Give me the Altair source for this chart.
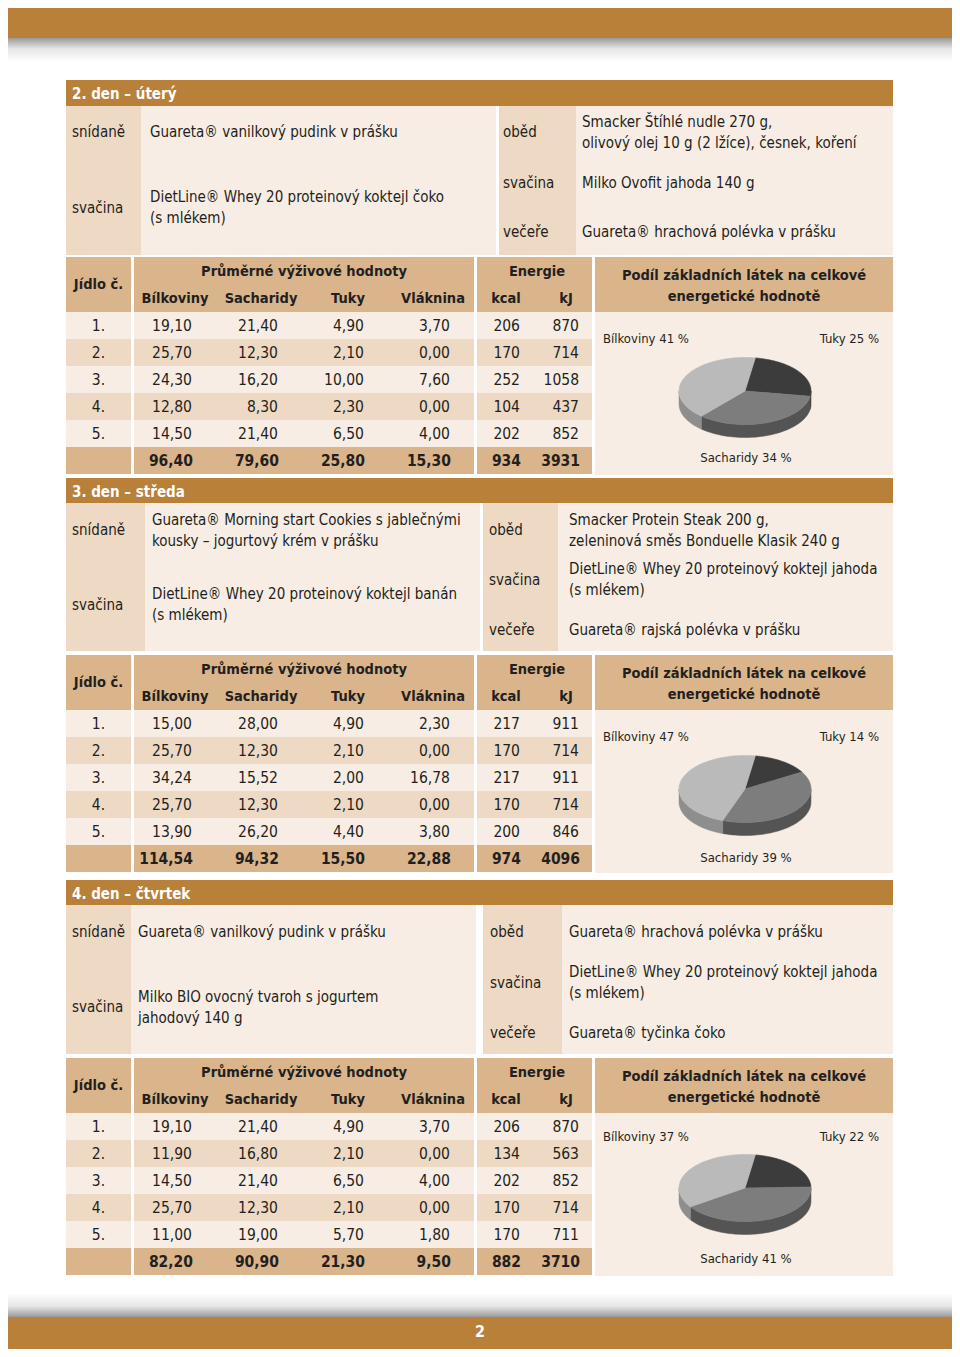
import altair as alt
import numpy as np
import pandas as pd

# ======================= DATA =======================
day_titles = ["2. den – úterý", "3. den – středa", "4. den – čtvrtek"]
left_meal_labels = ["snídaně", "svačina"]
right_meal_labels = ["oběd", "svačina", "večeře"]

day2_left = [["Guareta® vanilkový pudink v prášku"],
             ["DietLine® Whey 20 proteinový koktejl čoko", "(s mlékem)"]]
day2_right = [["Smacker Štíhlé nudle 270 g,", "olivový olej 10 g (2 lžíce), česnek, koření"],
              ["Milko Ovofit jahoda 140 g"],
              ["Guareta® hrachová polévka v prášku"]]
day3_left = [["Guareta® Morning start Cookies s jablečnými", "kousky – jogurtový krém v prášku"],
             ["DietLine® Whey 20 proteinový koktejl banán", "(s mlékem)"]]
day3_right = [["Smacker Protein Steak 200 g,", "zeleninová směs Bonduelle Klasik 240 g"],
              ["DietLine® Whey 20 proteinový koktejl jahoda", "(s mlékem)"],
              ["Guareta® rajská polévka v prášku"]]
day4_left = [["Guareta® vanilkový pudink v prášku"],
             ["Milko BIO ovocný tvaroh s jogurtem", "jahodový 140 g"]]
day4_right = [["Guareta® hrachová polévka v prášku"],
              ["DietLine® Whey 20 proteinový koktejl jahoda", "(s mlékem)"],
              ["Guareta® tyčinka čoko"]]
left_meals = [day2_left, day3_left, day4_left]
right_meals = [day2_right, day3_right, day4_right]

table_jidlo = "Jídlo č."
table_group_nutr = "Průměrné výživové hodnoty"
table_group_energy = "Energie"
nutr_cols = ["Bílkoviny", "Sacharidy", "Tuky", "Vláknina"]
energy_cols = ["kcal", "kJ"]
meal_numbers = ["1.", "2.", "3.", "4.", "5."]
pie_title = ["Podíl základních látek na celkové", "energetické hodnotě"]

bilkoviny = [[19.10, 25.70, 24.30, 12.80, 14.50],
             [15.00, 25.70, 34.24, 25.70, 13.90],
             [19.10, 11.90, 14.50, 25.70, 11.00]]
sacharidy = [[21.40, 12.30, 16.20, 8.30, 21.40],
             [28.00, 12.30, 15.52, 12.30, 26.20],
             [21.40, 16.80, 21.40, 12.30, 19.00]]
tuky = [[4.90, 2.10, 10.00, 2.30, 6.50],
        [4.90, 2.10, 2.00, 2.10, 4.40],
        [4.90, 2.10, 6.50, 2.10, 5.70]]
vlaknina = [[3.70, 0.00, 7.60, 0.00, 4.00],
            [2.30, 0.00, 16.78, 0.00, 3.80],
            [3.70, 0.00, 4.00, 0.00, 1.80]]
kcal = [[206, 170, 252, 104, 202],
        [217, 170, 217, 170, 200],
        [206, 134, 202, 170, 170]]
kj = [[870, 714, 1058, 437, 852],
      [911, 714, 911, 714, 846],
      [870, 563, 852, 714, 711]]
totals_bilkoviny = [96.40, 114.54, 82.20]
totals_sacharidy = [79.60, 94.32, 90.90]
totals_tuky = [25.80, 15.50, 21.30]
totals_vlaknina = [15.30, 22.88, 9.50]
totals_kcal = [934, 974, 882]
totals_kj = [3931, 4096, 3710]

pie_names = ["Bílkoviny", "Sacharidy", "Tuky"]
pie_bilkoviny = [41, 47, 37]
pie_sacharidy = [34, 39, 41]
pie_tuky = [25, 14, 22]
page_number = "2"

# ======================= LAYOUT / STYLE =======================
BROWN = "#b9803a"
TAN = "#dab58b"
MID = "#eed9c4"
LIGHT = "#f7ede4"
INK = "#231f20"
FONT = "DejaVu Sans Condensed, Liberation Sans Narrow, sans-serif"

days = [
    dict(hdr=(80, 106), meals=(106, 255), lab_l=141, cont_l=496, lab_r=(499, 576),
         tx_l=150, tx_r=582, lab_rx=503,
         llab_y=[132, 208], l_y=[[132], [197, 218]],
         rlab_y=[132, 183, 232], r_y=[[122, 143], [183], [232]],
         table=257, pie_cy=391, pie_lab=339, pie_bot=458),
    dict(hdr=(478, 503), meals=(503, 651), lab_l=145, cont_l=480, lab_r=(483, 558),
         tx_l=152, tx_r=569, lab_rx=489,
         llab_y=[530, 605], l_y=[[520, 541], [594, 615]],
         rlab_y=[530, 580, 630], r_y=[[520, 541], [569, 590], [630]],
         table=655, pie_cy=789, pie_lab=737, pie_bot=858),
    dict(hdr=(880, 905), meals=(905, 1054), lab_l=131, cont_l=476, lab_r=(483, 562),
         tx_l=138, tx_r=569, lab_rx=490,
         llab_y=[932, 1007], l_y=[[932], [997, 1018]],
         rlab_y=[932, 983, 1033], r_y=[[932], [972, 993], [1033]],
         table=1058, pie_cy=1188, pie_lab=1137, pie_bot=1259),
]

JID = (66, 131)
NUT = (134, 474)
ENE = (477, 592)
PIE = (595, 893)
NUT_HDR_X = [175, 261, 348, 433]
NUT_VAL_X = [192, 278, 364, 450]
ENE_HDR_X = [506, 566]
ENE_VAL_X = [520, 579]

rects, texts = [], []


def R(x, x2, y, y2, fill):
    rects.append(dict(x=x, x2=x2, y=y, y2=y2, fill=fill))


def T(x, y, text, style):
    texts.append(dict(x=x, y=y, text=text, style=style))


def f2(v):
    return f"{v:.2f}".replace(".", ",")


R(8, 952, 8, 38, BROWN)
R(8, 952, 1317, 1349, BROWN)
T(480, 1332, page_number, "page")

for k, d in enumerate(days):
    h0, h1 = d["hdr"]
    R(66, 893, h0, h1, BROWN)
    T(72, (h0 + h1) / 2 + 1, day_titles[k], "title")
    m0, m1 = d["meals"]
    R(66, d["lab_l"], m0, m1, MID)
    R(d["lab_l"], d["cont_l"], m0, m1, LIGHT)
    R(d["lab_r"][0], d["lab_r"][1], m0, m1, MID)
    R(d["lab_r"][1], 893, m0, m1, LIGHT)
    for i, lab in enumerate(left_meal_labels):
        T(72, d["llab_y"][i], lab, "text")
        for line, yy in zip(left_meals[k][i], d["l_y"][i]):
            T(d["tx_l"], yy, line, "text")
    for i, lab in enumerate(right_meal_labels):
        T(d["lab_rx"], d["rlab_y"][i], lab, "text")
        for line, yy in zip(right_meals[k][i], d["r_y"][i]):
            T(d["tx_r"], yy, line, "text")

    t = d["table"]
    for a, b in (JID, NUT, ENE, PIE):
        R(a, b, t, t + 55, TAN)
    T(98.5, t + 28, table_jidlo, "hdr")
    T(304, t + 15, table_group_nutr, "hdr")
    T(537, t + 15, table_group_energy, "hdr")
    for cx, name in zip(NUT_HDR_X, nutr_cols):
        T(cx, t + 42, name, "hdr")
    for cx, name in zip(ENE_HDR_X, energy_cols):
        T(cx, t + 42, name, "hdr")
    T(744, t + 19, pie_title[0], "hdr")
    T(744, t + 40, pie_title[1], "hdr")
    for i in range(6):
        y0 = t + 55 + 27 * i
        fill = TAN if i == 5 else (LIGHT if i % 2 == 0 else MID)
        for a, b in (JID, NUT, ENE):
            R(a, b, y0, y0 + 27, fill)
    R(PIE[0], PIE[1], t + 55, t + 218, LIGHT)
    for i in range(5):
        yc = t + 69 + 27 * i
        T(98.5, yc, meal_numbers[i], "numc")
        vals = [bilkoviny[k][i], sacharidy[k][i], tuky[k][i], vlaknina[k][i]]
        for xv, v in zip(NUT_VAL_X, vals):
            T(xv, yc, f2(v), "num")
        T(ENE_VAL_X[0], yc, str(kcal[k][i]), "num")
        T(ENE_VAL_X[1], yc, str(kj[k][i]), "num")
    yc = t + 69 + 27 * 5
    tvals = [totals_bilkoviny[k], totals_sacharidy[k], totals_tuky[k], totals_vlaknina[k]]
    for xv, v in zip(NUT_VAL_X, tvals):
        T(xv + 1, yc, f2(v), "tot")
    T(ENE_VAL_X[0] + 1, yc, str(totals_kcal[k]), "tot")
    T(ENE_VAL_X[1] + 1, yc, str(totals_kj[k]), "tot")
    # pie labels
    T(603, d["pie_lab"], f"{pie_names[0]} {pie_bilkoviny[k]} %", "pl")
    T(879, d["pie_lab"], f"{pie_names[2]} {pie_tuky[k]} %", "pr")
    T(746, d["pie_bot"], f"{pie_names[1]} {pie_sacharidy[k]} %", "pc")

# ----- 3D pies: slices (clockwise from near top: Tuky, Sacharidy, Bílkoviny) -----
RX, RY, DEPTH, START = 66.0, 33.5, 13.0, 9.0
TOP_COL = {"Tuky": "#3c3c3c", "Sacharidy": "#7d7d7d", "Bílkoviny": "#bababa"}
SIDE_COL = {"Tuky": "#2a2a2a", "Sacharidy": "#545454", "Bílkoviny": "#8e8e8e"}
tops, sides = [], []
for k, d in enumerate(days):
    cx, cy = 745.0, d["pie_cy"]
    shares = [("Tuky", pie_tuky[k]), ("Sacharidy", pie_sacharidy[k]), ("Bílkoviny", pie_bilkoviny[k])]
    total = sum(s for _, s in shares)
    a0 = START
    for name, s in shares:
        a1 = a0 + 360.0 * s / total
        pid = f"{k}-{name}"
        phis = np.linspace(a0, a1, 60)
        pts = [(cx, cy)] + [(cx + RX * np.sin(np.radians(p)), cy - RY * np.cos(np.radians(p))) for p in phis] + [(cx, cy)]
        for j, (px, py) in enumerate(pts):
            tops.append(dict(pid=pid, name=name, i=j, x=px, y=py))
        lo, hi = max(a0, 90.0), min(a1, 270.0)
        if hi > lo:
            for j, p in enumerate(np.linspace(lo, hi, 50)):
                px = cx + RX * np.sin(np.radians(p))
                py = cy - RY * np.cos(np.radians(p))
                sides.append(dict(pid=pid, name=name, i=j, x=px, y=py, y2=py + DEPTH))
        a0 = a1

rects_df = pd.DataFrame(rects)
texts_df = pd.DataFrame(texts)
tops_df = pd.DataFrame(tops)
sides_df = pd.DataFrame(sides)

XS = alt.Scale(domain=[8, 952], nice=False, zero=False)
YS = alt.Scale(domain=[8, 1349], reverse=True, nice=False, zero=False)

layers = []

shadow_top = alt.Chart(pd.DataFrame([dict(x=8, x2=952, y=38, y2=62)])).mark_rect(
    color=alt.LinearGradient(gradient="linear",
                             stops=[alt.GradientStop(color="#9a9a9a", offset=0),
                                    alt.GradientStop(color="#e6e6e6", offset=0.45),
                                    alt.GradientStop(color="#ffffff", offset=1)],
                             x1=0, x2=0, y1=0, y2=1)
).encode(x=alt.X("x:Q", scale=XS, axis=None), x2="x2:Q",
         y=alt.Y("y:Q", scale=YS, axis=None), y2="y2:Q")
shadow_bot = alt.Chart(pd.DataFrame([dict(x=8, x2=952, y=1293, y2=1317)])).mark_rect(
    color=alt.LinearGradient(gradient="linear",
                             stops=[alt.GradientStop(color="#ffffff", offset=0),
                                    alt.GradientStop(color="#e6e6e6", offset=0.55),
                                    alt.GradientStop(color="#9a9a9a", offset=1)],
                             x1=0, x2=0, y1=0, y2=1)
).encode(x=alt.X("x:Q", scale=XS, axis=None), x2="x2:Q",
         y=alt.Y("y:Q", scale=YS, axis=None), y2="y2:Q")
layers += [shadow_top, shadow_bot]

rect_layer = alt.Chart(rects_df).mark_rect().encode(
    x=alt.X("x:Q", scale=XS, axis=None), x2="x2:Q",
    y=alt.Y("y:Q", scale=YS, axis=None), y2="y2:Q",
    color=alt.Color("fill:N", scale=None))
layers.append(rect_layer)

for name in ["Tuky", "Sacharidy", "Bílkoviny"]:
    sd = sides_df[sides_df["name"] == name]
    if len(sd):
        layers.append(alt.Chart(sd).mark_area(color=SIDE_COL[name], stroke=SIDE_COL[name], strokeWidth=0.5).encode(
            x=alt.X("x:Q", scale=XS, axis=None),
            y=alt.Y("y:Q", scale=YS, axis=None, stack=None), y2="y2:Q",
            detail="pid:N"))
for name in ["Tuky", "Sacharidy", "Bílkoviny"]:
    td = tops_df[tops_df["name"] == name]
    layers.append(alt.Chart(td).mark_line(fill=TOP_COL[name], stroke=TOP_COL[name], strokeWidth=0.6).encode(
        x=alt.X("x:Q", scale=XS, axis=None),
        y=alt.Y("y:Q", scale=YS, axis=None),
        order="i:Q", detail="pid:N"))

styles = {
    "title": dict(align="left", fontSize=15, fontWeight="bold", color="white"),
    "text": dict(align="left", fontSize=15, fontWeight="normal", color=INK),
    "hdr": dict(align="center", fontSize=14.5, fontWeight="bold", color=INK),
    "num": dict(align="right", fontSize=15.5, fontWeight="normal", color=INK),
    "numc": dict(align="center", fontSize=15.5, fontWeight="normal", color=INK),
    "tot": dict(align="right", fontSize=15.5, fontWeight="bold", color=INK),
    "pl": dict(align="left", fontSize=13, fontWeight="normal", color=INK),
    "pr": dict(align="right", fontSize=13, fontWeight="normal", color=INK),
    "pc": dict(align="center", fontSize=13, fontWeight="normal", color=INK),
    "page": dict(align="center", fontSize=16, fontWeight="bold", color="white"),
}
for key, st in styles.items():
    sub = texts_df[texts_df["style"] == key]
    layers.append(alt.Chart(sub).mark_text(baseline="middle", font=FONT, **st).encode(
        x=alt.X("x:Q", scale=XS, axis=None),
        y=alt.Y("y:Q", scale=YS, axis=None),
        text="text:N"))

chart = alt.layer(*layers).properties(
    width=944, height=1341, padding=0,
    autosize=alt.AutoSizeParams(type="fit", contains="padding"),
).configure_view(stroke=None)

chart.save("out.html", embed_options={"renderer": "svg", "actions": False})
